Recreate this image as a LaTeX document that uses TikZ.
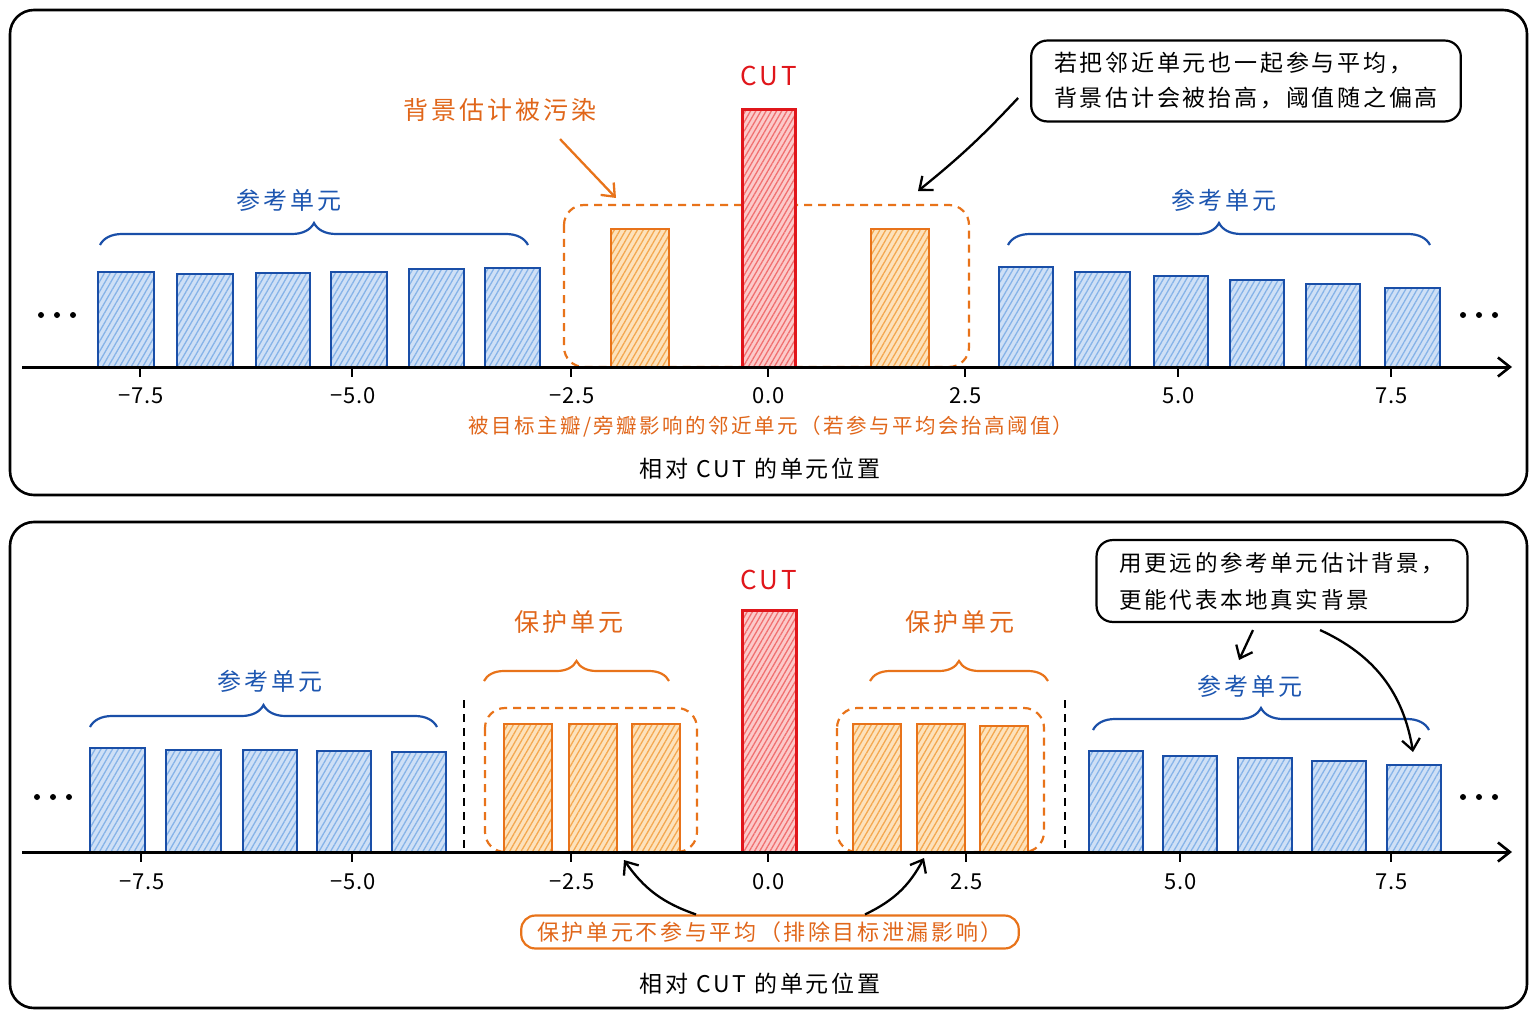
\documentclass[tikz,border=0pt]{standalone}
\usepackage{fontspec}
\setmainfont{Noto Sans CJK SC}[LetterSpace=12]
\usetikzlibrary{arrows.meta,decorations.pathreplacing,patterns.meta,positioning}

\definecolor{refblue}{HTML}{1A4FA8}
\definecolor{reffill}{HTML}{CFE0F6}
\definecolor{refhatch}{HTML}{86B3E8}
\definecolor{grdorange}{HTML}{E8731A}
\definecolor{grdfill}{HTML}{FDE2BC}
\definecolor{grdhatch}{HTML}{F4A850}
\definecolor{cutred}{HTML}{E0161B}
\definecolor{cutfill}{HTML}{FCCACA}
\definecolor{cuthatch}{HTML}{F07070}
\definecolor{txtorange}{HTML}{E0661A}
\definecolor{txtblue}{HTML}{1D56B0}

\tikzset{
  panel/.style={draw=black, line width=2.6pt, rounded corners=24pt},
  axisline/.style={line width=3pt, -{Straight Barb[length=12pt,width=19pt,line width=2.6pt]}},
  tickmark/.style={line width=2.4pt},
  refbar/.style={draw=refblue, line width=2.8pt, preaction={fill=reffill},
    pattern={Lines[angle=60,distance=5pt,line width=1.3pt]}, pattern color=refhatch},
  grdbar/.style={draw=grdorange, line width=2.8pt, preaction={fill=grdfill},
    pattern={Lines[angle=60,distance=5pt,line width=1.3pt]}, pattern color=grdhatch},
  cutbar/.style={draw=cutred, line width=3pt, preaction={fill=cutfill},
    pattern={Lines[angle=60,distance=4.5pt,line width=1.3pt]}, pattern color=cuthatch},
  grdbox/.style={draw=grdorange, line width=2.2pt, dash pattern=on 8pt off 6pt, rounded corners=20pt},
  sepline/.style={draw=black, line width=2.2pt, dash pattern=on 8pt off 6pt},
  refbrace/.style={draw=refblue, line width=2.2pt, decorate, decoration={brace, amplitude=22pt}},
  grdbrace/.style={draw=grdorange, line width=2.2pt, decorate, decoration={brace, amplitude=20pt}},
  arr/.style={line width=2.3pt, -{Straight Barb[length=11pt,width=18pt]}},
  lblref/.style={text=txtblue, font=\fontsize{24}{28}\selectfont},
  lblgrd/.style={text=txtorange, font=\fontsize{25}{30}\selectfont},
  lblcut/.style={text=cutred, font=\fontsize{26}{30}\selectfont},
  ticklbl/.style={font=\fontsize{22}{26}\selectfont\addfontfeature{LetterSpace=4}},
  axistitle/.style={font=\fontsize{23}{27}\selectfont},
  note/.style={draw, line width=2.2pt, rounded corners=16pt, align=left, inner xsep=23pt, inner ysep=12pt}
}

\begin{document}
\begin{tikzpicture}[x=1pt,y=-1pt]
\useasboundingbox (0,0) rectangle (1536,1024);

% upper panel
\draw[panel] (10,10) rectangle (1527,495);
\draw[grdbox] (564,205) rectangle (969,367);
\foreach \a/\b/\t in {98/154/272,177/233/274,256/310/273,331/387/272,409/464/269,485/540/268,
  999/1053/267,1075/1130/272,1154/1208/276,1230/1284/280,1306/1360/284,1385/1440/288}
  \draw[refbar] (\a,367) rectangle (\b,\t);
\draw[grdbar] (611,367) rectangle (669,229);
\draw[grdbar] (871,367) rectangle (929,229);
\draw[cutbar] (742,367) rectangle (795,110);
\draw[axisline] (22,367) -- (1512,367);
\foreach \x/\l in {140/−7.5,352/−5.0,571/−2.5,768/0.0,965/2.5,1178/5.0,1391/7.5} {
  \draw[tickmark] (\x,367) -- (\x,377);
  \node[ticklbl] (ua\x) at (\x+1,396) {\l};
}
\foreach \x in {41,57,73,1463,1479,1495} \fill (\x,315) circle (3);

\node[lblcut] (cutA) at (769,76) {CUT};
\node[lblgrd] (polluted) at (500,110) {背景估计被污染};
\coordinate (hitL) at (616,198);
\draw[arr, grdorange] ([shift={(60,14)}]polluted.south) -- (hitL);
\node[note, font=\fontsize{23}{35}\selectfont] (noteA) at (1246,81)
  {若把邻近单元也一起参与平均，\\背景估计会被抬高，阈值随之偏高};
\coordinate (hitR) at (918,191);
\draw[arr] ([shift={(-12,17)}]noteA.west) to[bend left=4] (hitR);

\draw[refbrace] (100,245) -- (528,245);
\node[lblref] (refLA) at (289,200) {参考单元};
\draw[refbrace] (1008,245) -- (1430,245);
\node[lblref] (refRA) at (1224,200) {参考单元};

\node[text=txtorange, font=\fontsize{20.5}{24}\selectfont] (leakA) at (771,427)
  {被目标主瓣/旁瓣影响的邻近单元（若参与平均会抬高阈值）};
\node[axistitle] (titleA) at (760,469) {相对 CUT 的单元位置};

% lower panel
\draw[panel] (10,522) rectangle (1527,1008);
\draw[sepline] (464,700) -- (464,850);
\draw[sepline] (1065,700) -- (1065,850);
\draw[grdbox] (485,708) rectangle (697,852);
\draw[grdbox] (837,708) rectangle (1044,852);
\foreach \a/\b/\t in {90/145/748,166/221/750,243/297/750,317/371/751,392/446/752,
  1089/1143/751,1163/1217/756,1238/1292/758,1312/1366/761,1387/1441/765}
  \draw[refbar] (\a,852) rectangle (\b,\t);
\foreach \a/\b/\t in {504/552/724,569/617/724,632/680/724,853/901/724,917/965/724,980/1028/726}
  \draw[grdbar] (\a,852) rectangle (\b,\t);
\draw[cutbar] (742,852) rectangle (796,610);
\draw[axisline] (22,852) -- (1512,852);
\foreach \x/\l in {141/−7.5,352/−5.0,571/−2.5,768/0.0,966/2.5,1180/5.0,1391/7.5} {
  \draw[tickmark] (\x,852) -- (\x,862);
  \node[ticklbl] (ub\x) at (\x+1,882) {\l};
}
\foreach \x in {37,53,69,1463,1479,1495} \fill (\x,797) circle (3);

\node[lblcut] (cutB) at (769,580) {CUT};
\draw[grdbrace] (484,681) -- (669,681);
\node[lblgrd] (guardL) at (569,622) {保护单元};
\draw[grdbrace] (870,681) -- (1048,681);
\node[lblgrd] (guardR) at (960,622) {保护单元};

\draw[refbrace] (90,727) -- (437,727);
\node[lblref] (refLB) at (270,681) {参考单元};
\draw[refbrace] (1093,730) -- (1429,730);
\node[lblref] (refRB) at (1250,686) {参考单元};

\node[note, font=\fontsize{22.5}{37}\selectfont] (noteB) at (1282,581)
  {用更远的参考单元估计背景，\\更能代表本地真实背景};
\coordinate (farA) at (1239,660);
\coordinate (farB) at (1413,752);
\draw[arr] ([shift={(-29,7)}]noteB.south) -- (farA);
\draw[arr] ([shift={(38,7)}]noteB.south) to[bend left=28] (farB);

\node[draw=grdorange, line width=2.2pt, rounded corners=14pt, text=txtorange,
  font=\fontsize{22}{26}\selectfont, inner xsep=16pt, inner ysep=6pt] (keepout) at (770,932)
  {保护单元不参与平均（排除目标泄漏影响）};
\coordinate (gL) at (624,860);
\coordinate (gR) at (924,858);
\draw[arr] ([xshift=-74pt]keepout.north) to[bend left=18] (gL);
\draw[arr] ([xshift=95pt]keepout.north) to[bend right=18] (gR);
\node[axistitle] (titleB) at (760,984) {相对 CUT 的单元位置};
\end{tikzpicture}
\end{document}
